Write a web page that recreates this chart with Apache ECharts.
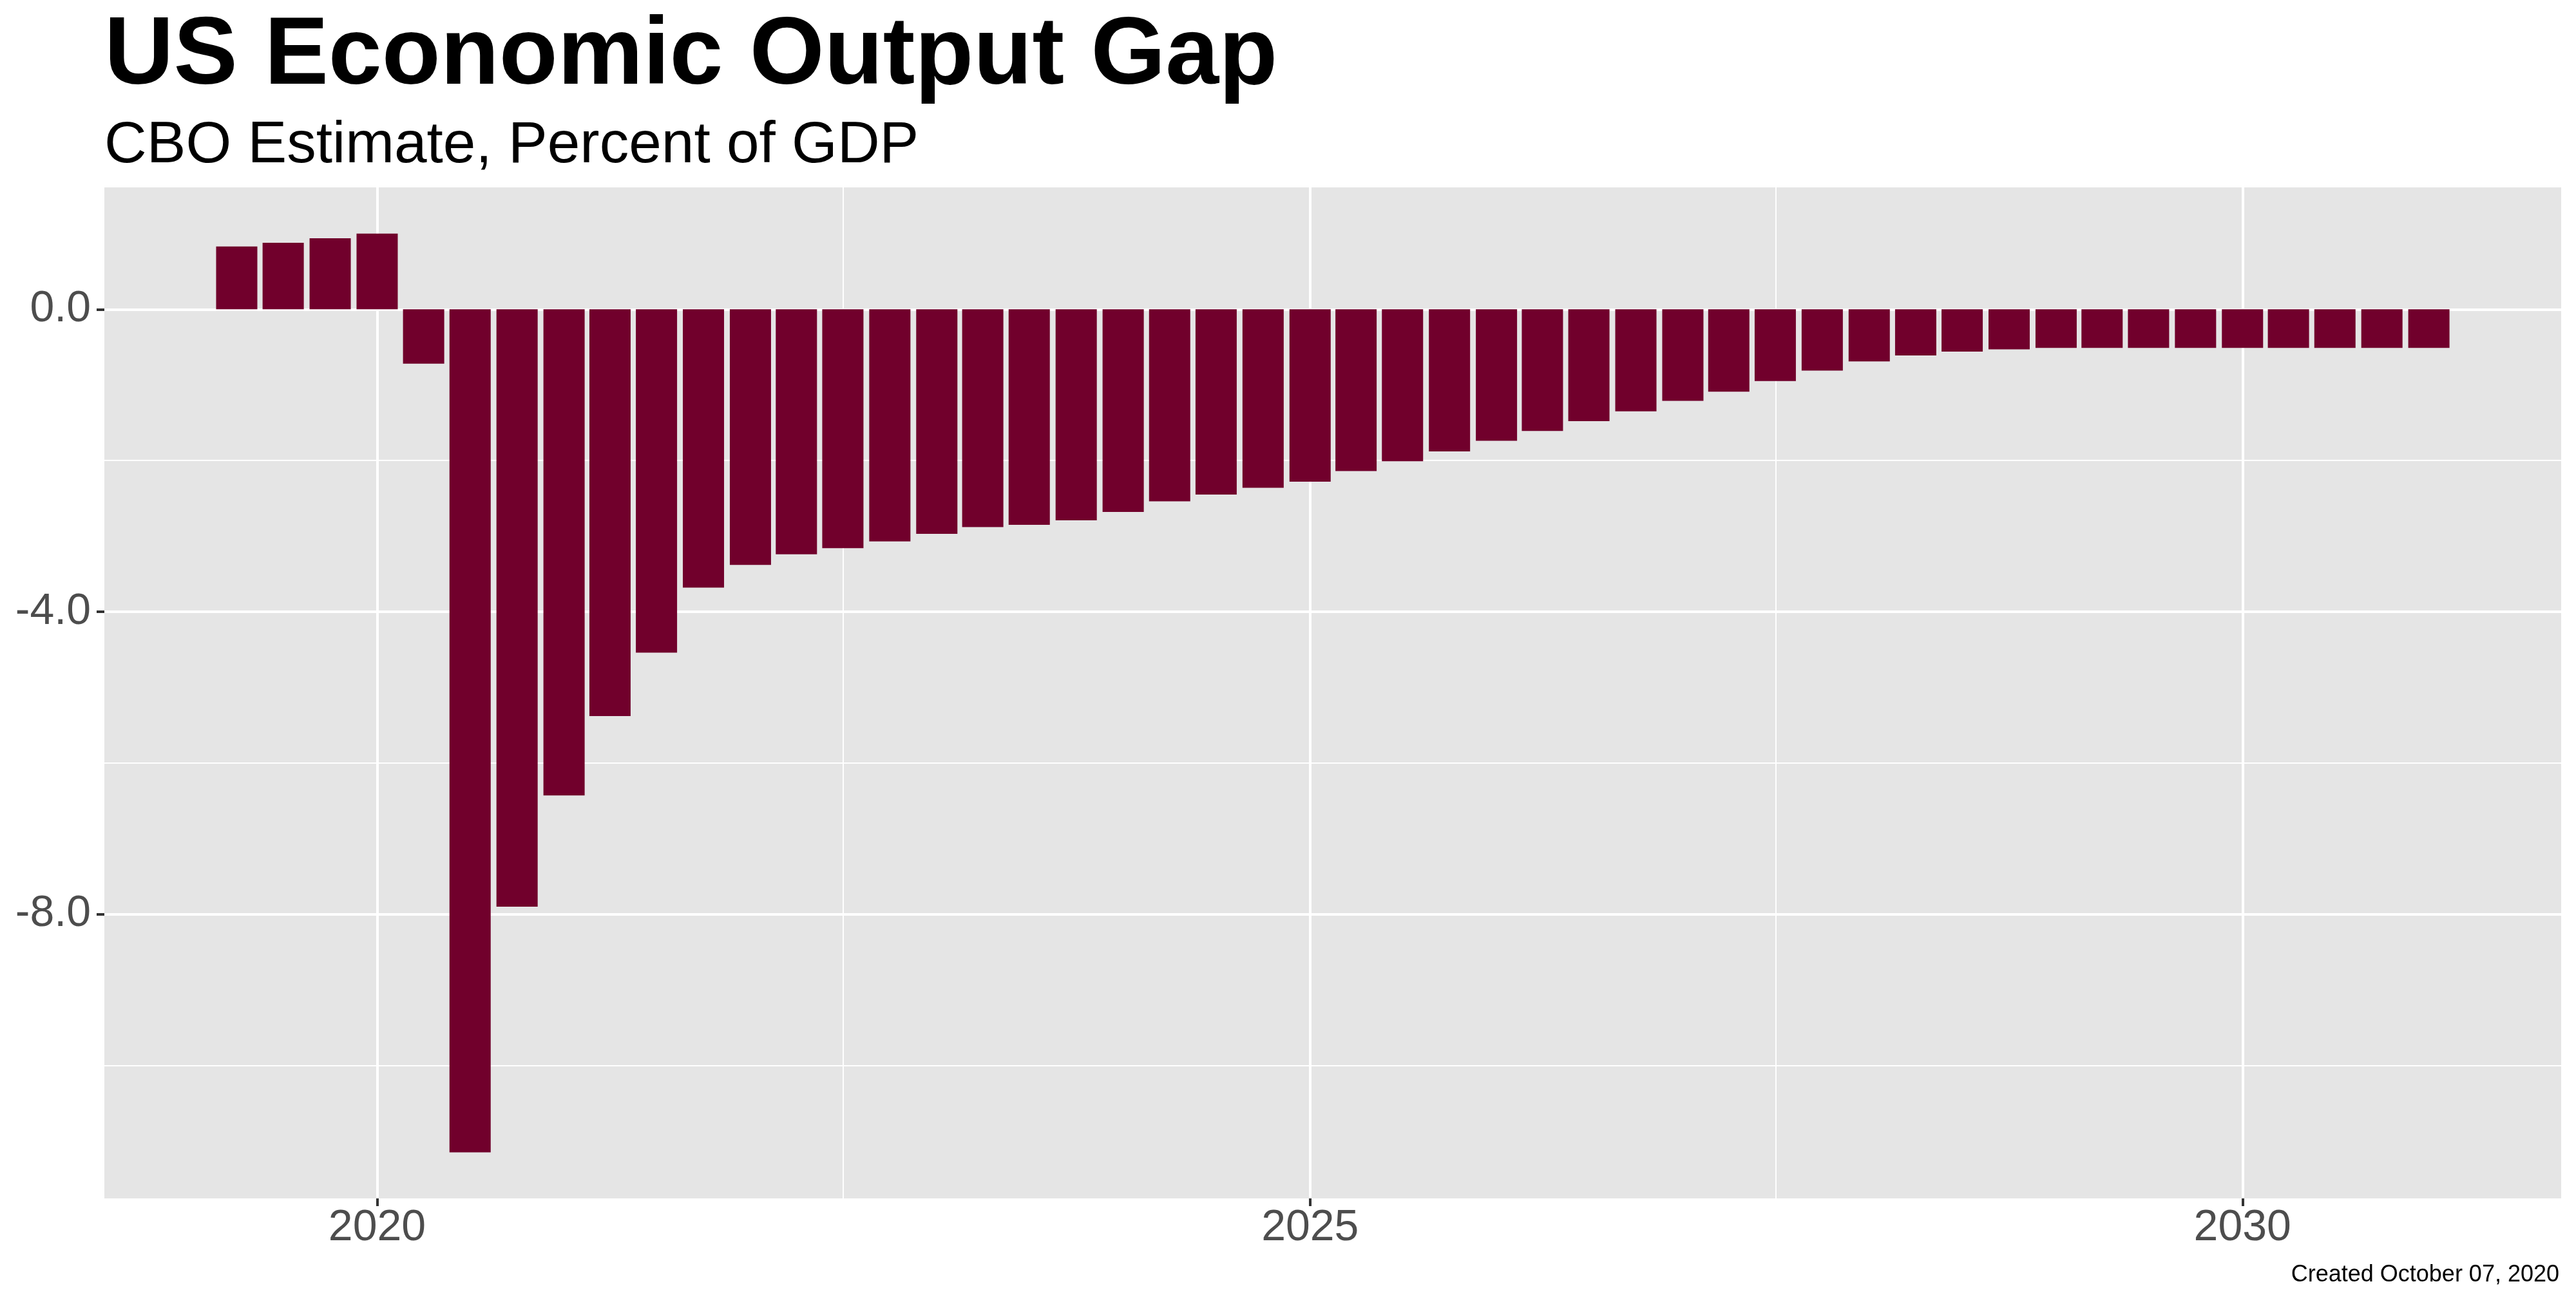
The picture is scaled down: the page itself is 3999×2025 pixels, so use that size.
<!DOCTYPE html>
<html>
<head>
<meta charset="utf-8">
<title>US Economic Output Gap</title>
<script src="https://cdn.jsdelivr.net/npm/echarts/dist/echarts.min.js"></script>
<style>
	html,body{margin:0;padding:0;background:#fff;}
	#main{width:3999px;height:2025px;}
</style>
</head>
<body>
<div id="main"></div>
<script>
// quarters (start date of each quarter) and CBO output gap, % of GDP
var quarters=['2019-04-01','2019-07-01','2019-10-01',
	'2020-01-01','2020-04-01','2020-07-01','2020-10-01',
	'2021-01-01','2021-04-01','2021-07-01','2021-10-01',
	'2022-01-01','2022-04-01','2022-07-01','2022-10-01',
	'2023-01-01','2023-04-01','2023-07-01','2023-10-01',
	'2024-01-01','2024-04-01','2024-07-01','2024-10-01',
	'2025-01-01','2025-04-01','2025-07-01','2025-10-01',
	'2026-01-01','2026-04-01','2026-07-01','2026-10-01',
	'2027-01-01','2027-04-01','2027-07-01','2027-10-01',
	'2028-01-01','2028-04-01','2028-07-01','2028-10-01',
	'2029-01-01','2029-04-01','2029-07-01','2029-10-01',
	'2030-01-01','2030-04-01','2030-07-01','2030-10-01',
	'2031-01-01'];
var gap=[0.83,0.88,0.94,
	1.00,-0.72,-11.15,-7.90,
	-6.43,-5.38,-4.54,-3.68,
	-3.38,-3.24,-3.16,-3.07,
	-2.97,-2.88,-2.85,-2.79,
	-2.68,-2.54,-2.45,-2.36,
	-2.28,-2.14,-2.01,-1.88,
	-1.74,-1.61,-1.48,-1.35,
	-1.21,-1.09,-0.95,-0.81,
	-0.69,-0.61,-0.56,-0.53,
	-0.51,-0.51,-0.51,-0.51,
	-0.51,-0.51,-0.51,-0.51,
	-0.51];

// axis breaks
var xMajor=['2020-01-01','2025-01-01','2030-01-01'];
var xMinor=['2022-07-02','2027-07-02'];
var yMajor=[0,-4,-8];
var yMinor=[-2,-6,-10];
var xLimits=[2018.537,2031.71];
var yLimits=[-11.758,1.612];

// date string -> decimal year, linear in days
function toYear(s){
	var p=s.split('-');
	var days=Date.UTC(+p[0],+p[1]-1,+p[2])/86400000;
	return 1970+days/365.2425;
}

var font='Liberation Sans';
var bars=[];
for(var i=0;i<quarters.length;i++){
	bars.push([toYear(quarters[i]),gap[i]]);
}

var myChart=echarts.init(document.getElementById('main'));
var option={
	animation:false,
	title:[{
		text:'US Economic Output Gap',
		left:162,top:14,padding:0,
		textStyle:{fontFamily:font,fontSize:149,fontWeight:'bold',color:'#000'}
	},{
		text:'CBO Estimate, Percent of GDP',
		left:162,top:181,padding:0,
		textStyle:{fontFamily:font,fontSize:91,fontWeight:'normal',color:'#000'}
	},{
		text:'Created October 07, 2020',
		right:26,top:1962,padding:0,
		textStyle:{fontFamily:font,fontSize:36,fontWeight:'normal',color:'#000'}
	}],
	grid:{
		left:162,right:23,top:291,bottom:164,
		show:true,backgroundColor:'#E5E5E5',borderWidth:0
	},
	xAxis:[{
		type:'value',min:xLimits[0],max:xLimits[1],position:'bottom',
		axisLine:{show:false,onZero:false},
		axisTick:{show:true,length:12,customValues:xMajor.map(toYear),lineStyle:{color:'#333333',width:4}},
		axisLabel:{customValues:xMajor.map(toYear),margin:12,fontFamily:font,fontSize:68,color:'#4D4D4D',
			formatter:function(v){return String(Math.round(v));}},
		splitLine:{show:true,lineStyle:{color:'#FFFFFF',width:4}}
	},{
		type:'value',min:xLimits[0],max:xLimits[1],position:'top',
		axisLine:{show:false,onZero:false},
		axisTick:{show:false,customValues:xMinor.map(toYear)},
		axisLabel:{show:false},
		splitLine:{show:true,lineStyle:{color:'#FFFFFF',width:2}}
	}],
	yAxis:[{
		type:'value',min:yLimits[0],max:yLimits[1],position:'left',
		axisLine:{show:false,onZero:false},
		axisTick:{show:true,length:12,customValues:yMajor,lineStyle:{color:'#333333',width:4}},
		axisLabel:{customValues:yMajor,margin:21,fontFamily:font,fontSize:68,color:'#4D4D4D',
			formatter:function(v){return v.toFixed(1);}},
		splitLine:{show:true,lineStyle:{color:'#FFFFFF',width:4}}
	},{
		type:'value',min:yLimits[0],max:yLimits[1],position:'right',
		axisLine:{show:false,onZero:false},
		axisTick:{show:false,customValues:yMinor},
		axisLabel:{show:false},
		splitLine:{show:true,lineStyle:{color:'#FFFFFF',width:2}}
	}],
	series:[{
		type:'bar',
		xAxisIndex:0,yAxisIndex:0,
		barWidth:64,
		itemStyle:{color:'#71002C'},
		data:bars
	}]
};
myChart.setOption(option);
</script>
</body>
</html>
